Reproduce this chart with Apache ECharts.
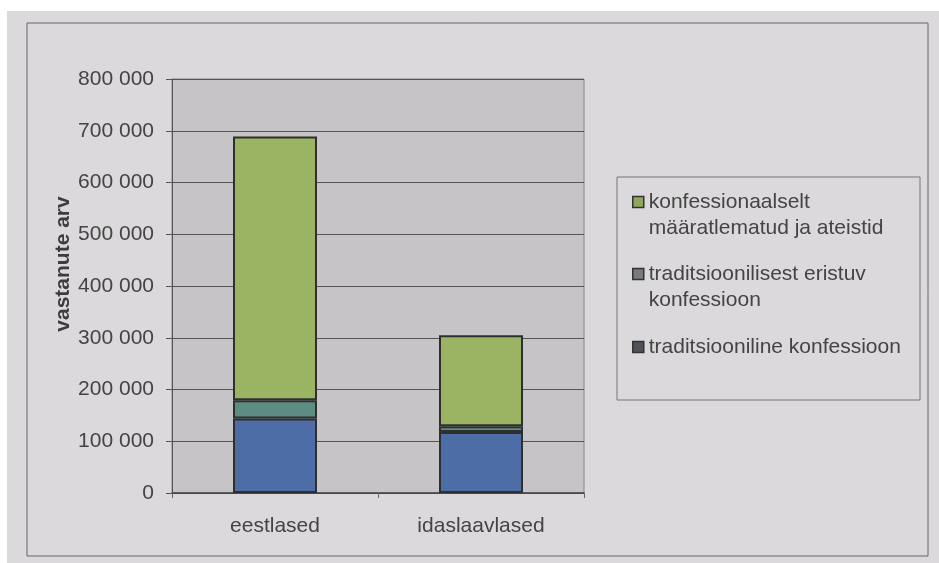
<!DOCTYPE html>
<html>
<head>
<meta charset="utf-8">
<title>vastanute arv</title>
<script src="https://cdn.jsdelivr.net/npm/echarts@6/dist/echarts.min.js"></script>
<style>
    html, body { margin: 0; padding: 0; background: #fff; }
    #chart { width: 939px; height: 563px; }
</style>
</head>
<body>
<div id="chart"></div>
<script>
var categories = ['eestlased', 'idaslaavlased'];
var seriesNames = [
    'traditsiooniline konfessioon',
    'traditsioonilisest eristuv konfessioon',
    'konfessionaalselt määratlematud ja ateistid'
];
var legendLabels = [
    'traditsiooniline konfessioon',
    'traditsioonilisest eristuv\nkonfessioon',
    'konfessionaalselt\nmääratlematud ja ateistid'
];
var traditsiooniline = [144000, 118000];
var eristuv = [35000, 11000];
var maaratlemata = [510000, 176000];
var yTicks = [0, 100000, 200000, 300000, 400000, 500000, 600000, 700000, 800000];

var font = "'Liberation Sans', Arial, sans-serif";
var textColor = '#444';
var barColors = ['#4d6da7', '#5d8d82', '#9bb463'];
var markerColors = ['#4f5258', '#767a79', '#8ea75a'];
var lineH = 26;

function fmt(v) {
    return String(v).replace(/\B(?=(\d{3})+(?!\d))/g, ' ');
}

// one legend per item, so the marker can sit on the first text line
function makeLegend(i, markerY) {
    var twoLines = legendLabels[i].indexOf('\n') >= 0;
    return {
        orient: 'vertical',
        left: 632,
        top: twoLines ? markerY - lineH * 1.5 : markerY - lineH / 2,
        padding: 0,
        itemWidth: 11,
        itemHeight: 11,
        selectedMode: false,
        icon: 'rect',
        data: [{
            name: seriesNames[i],
            itemStyle: {color: markerColors[i], borderColor: '#333', borderWidth: 1.5}
        }],
        formatter: function () {
            return twoLines ? '\n' + legendLabels[i] : legendLabels[i];
        },
        textStyle: {fontFamily: font, fontSize: 21, color: textColor, lineHeight: lineH}
    };
}

var series = [];
var data = [traditsiooniline, eristuv, maaratlemata];
for (var i = 0; i < data.length; i++) {
    series.push({
        name: seriesNames[i],
        type: 'bar',
        stack: 'total',
        barWidth: 84,
        data: data[i],
        itemStyle: {color: barColors[i], borderColor: '#2f2f2f', borderWidth: 2},
        emphasis: {disabled: true}
    });
}

var chart = echarts.init(document.getElementById('chart'));
chart.setOption({
    backgroundColor: '#dbd9db',
    animation: false,
    graphic: [
        {type: 'rect', shape: {x: 0, y: 0, width: 939, height: 11}, style: {fill: '#fff'}, silent: true},
        {type: 'rect', shape: {x: 0, y: 0, width: 7, height: 563}, style: {fill: '#fff'}, silent: true},
        {type: 'rect', shape: {x: 27, y: 23, width: 901, height: 533}, style: {fill: 'none', stroke: '#666', lineWidth: 1}, silent: true},
        {type: 'rect', shape: {x: 617, y: 177, width: 303, height: 223}, style: {fill: 'none', stroke: '#777', lineWidth: 1}, silent: true}
    ],
    legend: [
        makeLegend(2, 202),
        makeLegend(1, 274),
        makeLegend(0, 347)
    ],
    grid: {
        left: 172,
        right: 355,
        top: 79,
        bottom: 70,
        show: true,
        backgroundColor: '#c6c4c6',
        borderColor: '#888',
        borderWidth: 1
    },
    xAxis: {
        type: 'category',
        data: categories,
        axisLine: {lineStyle: {color: '#444', width: 1.5}},
        axisTick: {show: true, length: 5, lineStyle: {color: '#666'}},
        axisLabel: {fontFamily: font, fontSize: 21, color: textColor, margin: 23}
    },
    yAxis: {
        type: 'value',
        min: yTicks[0],
        max: yTicks[yTicks.length - 1],
        interval: yTicks[1] - yTicks[0],
        name: 'vastanute arv',
        nameLocation: 'middle',
        nameGap: 95,
        nameTextStyle: {fontFamily: font, fontSize: 21, fontWeight: 'bold', color: '#3d3d3d', padding: [0, 0, 0, 44]},
        axisLine: {show: true, lineStyle: {color: '#555', width: 1}},
        axisTick: {show: true, length: 6, lineStyle: {color: '#555'}},
        axisLabel: {fontFamily: font, fontSize: 21, color: textColor, margin: 18, formatter: fmt},
        splitLine: {lineStyle: {color: '#555', width: 1}}
    },
    series: series
});
</script>
</body>
</html>
